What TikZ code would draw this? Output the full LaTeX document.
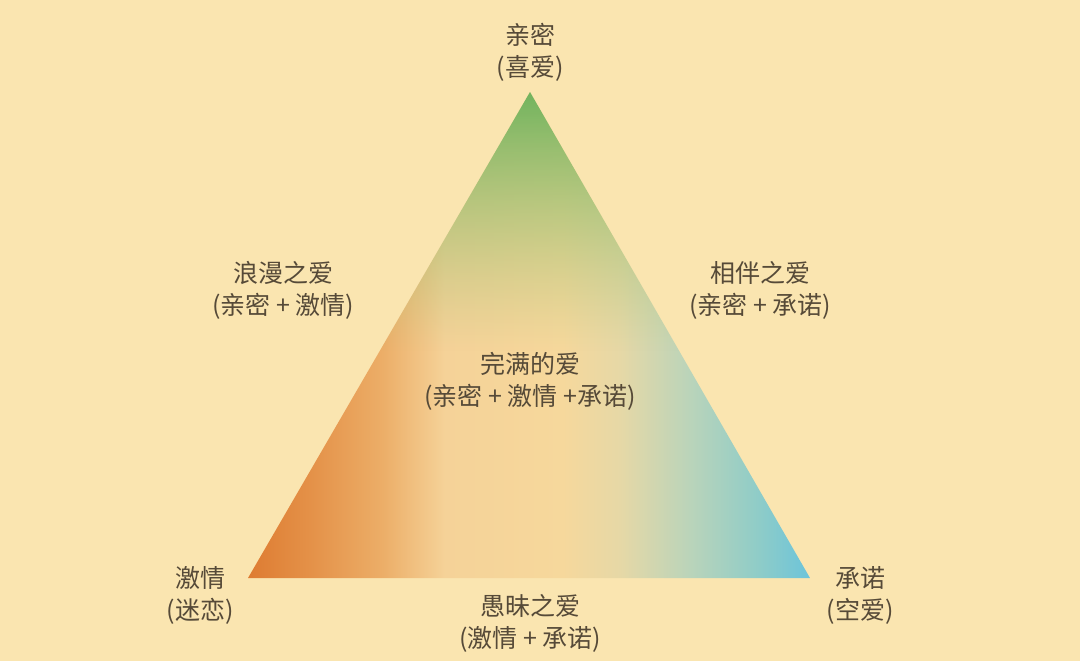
\documentclass[tikz,border=0pt]{standalone}
\usepackage{fontspec}
\newfontfamily\cjk{Noto Sans CJK SC}
\usetikzlibrary{fadings}
\definecolor{bg}{HTML}{FAE5B0}
\definecolor{txt}{HTML}{564A38}
\definecolor{gtop}{HTML}{72B45E}
\definecolor{gbot}{HTML}{A8C478}
\definecolor{sa}{RGB}{222,124,50}
\definecolor{sb}{RGB}{228,145,72}
\definecolor{sc}{RGB}{236,174,104}
\definecolor{sd}{RGB}{245,210,152}
\definecolor{se}{RGB}{246,216,156}
\definecolor{sf}{RGB}{230,216,166}
\definecolor{sg}{RGB}{186,212,186}
\definecolor{sh}{RGB}{142,204,200}
\definecolor{si}{RGB}{108,196,218}
\pgfdeclarehorizontalshading{bshade}{100bp}{%
color(0bp)=(sa);%
color(25bp)=(sa);%
color(30.5bp)=(sb);%
color(37bp)=(sc);%
color(42.5bp)=(sd);%
color(53bp)=(se);%
color(58.1bp)=(sf);%
color(64.3bp)=(sg);%
color(70.5bp)=(sh);%
color(75bp)=(si);%
color(100bp)=(si)}
\tikzfading[name=gfade, top color=transparent!0, middle color=transparent!25, bottom color=transparent!100]
\tikzfading[name=ofade, left color=transparent!0, right color=transparent!100]
\begin{document}
\begin{tikzpicture}[x=1pt,y=-1pt,
  lbl/.style={text=txt,align=center,font=\cjk\fontsize{25}{32}\selectfont,inner sep=0pt}]
\useasboundingbox (0,0) rectangle (1080,661);
\fill[bg] (0,0) rectangle (1080,661);
\coordinate (T) at (530,92);
\coordinate (L) at (248,578);
\coordinate (R) at (810,578);
\begin{scope}
\clip (T) -- (L) -- (R) -- cycle;
\shade[shading=bshade] (248,92) rectangle (810,578);
\shade[top color=gtop,bottom color=gbot,path fading=gfade] (248,92) rectangle (810,350);
\end{scope}
\node[lbl] (top) at (530,52) {亲密\\(喜爱)};
\node[lbl] (rom) at (283,290) {浪漫之爱\\(亲密 + 激情)};
\node[lbl] (com) at (760,290) {相伴之爱\\(亲密 + 承诺)};
\node[lbl] (full) at (530,381) {完满的爱\\(亲密 + 激情 +承诺)};
\node[lbl] (pas) at (200,595) {激情\\(迷恋)};
\node[lbl] (pro) at (860,595) {承诺\\(空爱)};
\node[lbl] (fat) at (530,623) {愚昧之爱\\(激情 + 承诺)};
\end{tikzpicture}
\end{document}
